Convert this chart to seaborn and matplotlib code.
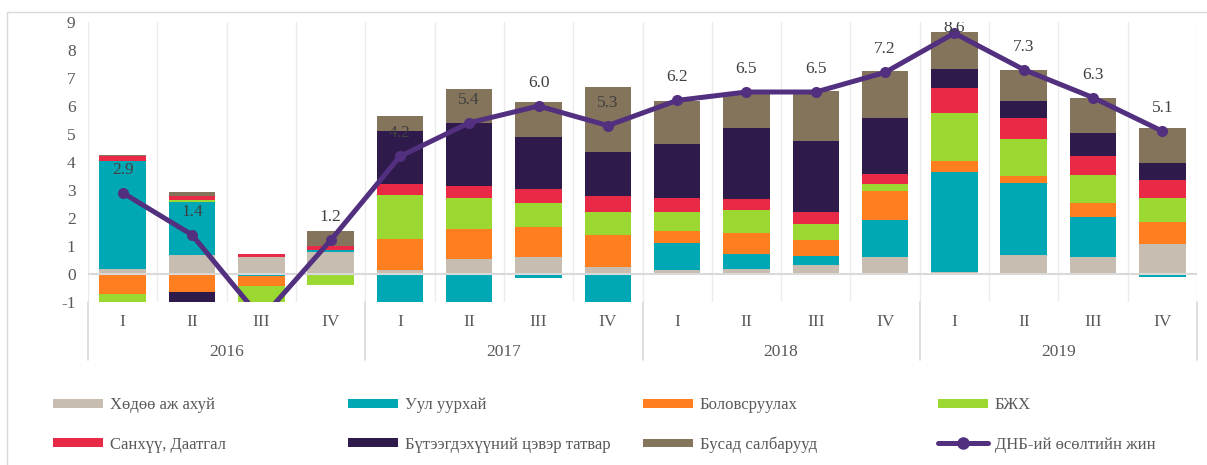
import numpy as np
import matplotlib
matplotlib.use("Agg")
import matplotlib.pyplot as plt
import matplotlib.transforms as mtransforms
from matplotlib.patches import Rectangle, Patch
from matplotlib.lines import Line2D
import seaborn as sns

# quarterly contributions to GDP growth (pp), 2016 I .. 2019 IV
quarters = ["I", "II", "III", "IV"] * 4
years = ["2016", "2017", "2018", "2019"]

agri = [0.18, 0.69, 0.60, 0.79, 0.15, 0.55, 0.62, 0.25, 0.14, 0.18, 0.31, 0.60, 0.06, 0.69, 0.60, 1.07]
mining = [3.84, 1.88, -0.06, 0.06, -1.45, -1.18, -0.14, -1.39, 0.95, 0.54, 0.35, 1.33, 3.57, 2.57, 1.43, -0.10]
manuf = [-0.70, -0.65, -0.36, 0.0, 1.11, 1.04, 1.05, 1.13, 0.44, 0.76, 0.55, 1.02, 0.42, 0.24, 0.51, 0.77]
constr = [-0.64, 0.07, -1.20, -0.38, 1.57, 1.11, 0.88, 0.82, 0.69, 0.82, 0.58, 0.27, 1.71, 1.31, 1.01, 0.87]
finance = [0.18, 0.13, 0.10, 0.14, 0.39, 0.46, 0.48, 0.57, 0.48, 0.38, 0.42, 0.36, 0.89, 0.76, 0.68, 0.65]
net_tax = [0.0, -0.89, -0.67, 0.02, 1.87, 2.23, 1.88, 1.60, 1.93, 2.52, 2.54, 1.98, 0.68, 0.60, 0.81, 0.62]
other = [0.04, 0.17, 0.0, 0.54, 0.56, 1.20, 1.24, 2.32, 1.55, 1.23, 1.79, 1.68, 1.31, 1.11, 1.24, 1.23]
gdp = [2.9, 1.4, -1.6, 1.2, 4.2, 5.4, 6.0, 5.3, 6.2, 6.5, 6.5, 7.2, 8.6, 7.3, 6.3, 5.1]

series = [
    ("Хөдөө аж ахуй", agri, "#C7BDB0"),
    ("Уул уурхай", mining, "#00A8B5"),
    ("Боловсруулах", manuf, "#FF7F20"),
    ("БЖХ", constr, "#9CD832"),
    ("Санхүү, Даатгал", finance, "#E92A47"),
    ("Бүтээгдэхүүний цэвэр татвар", net_tax, "#2F1B4B"),
    ("Бусад салбарууд", other, "#84745B"),
]
line_name = "ДНБ-ий өсөлтийн жин"
line_col = "#52307F"
txt_col = "#595959"

sns.set_theme(style="white")
plt.rcParams["font.family"] = ["Liberation Serif", "DejaVu Serif"]
plt.rcParams["axes.unicode_minus"] = False

fig = plt.figure(figsize=(12.07, 4.65), dpi=100)
ax = fig.add_axes([88 / 1207, 1 - 302 / 465, (1197 - 88) / 1207, 280 / 465])

x = np.arange(len(gdp))
pos = np.zeros(len(x))
neg = np.zeros(len(x))
for name, vals, col in series:
    v = np.array(vals)
    bottom = np.where(v >= 0, pos, neg)
    ax.bar(x, v, bottom=bottom, width=0.67, color=col, zorder=2, linewidth=0)
    pos += np.where(v >= 0, v, 0)
    neg += np.where(v < 0, v, 0)

sns.lineplot(x=x, y=gdp, ax=ax, color=line_col, lw=3.6, marker="o",
             markersize=8, markeredgewidth=0, zorder=4, legend=False)

for i, v in enumerate(gdp):
    if v > -1:
        ax.text(i, min(v + 0.82, 8.79), f"{v:.1f}", ha="center", va="center",
                fontsize=12.5, color="#404040", zorder=5, clip_on=True)

ax.set_xlim(-0.5, 15.5)
ax.set_ylim(-1, 9)
ax.set_yticks(range(-1, 10))
ax.set_xticks([])
for s in ax.spines.values():
    s.set_visible(False)
ax.tick_params(axis="y", length=0, pad=9, labelsize=12.5, labelcolor=txt_col)
ax.set_xlabel("")
ax.set_ylabel("")

for b in np.arange(-0.5, 16, 1):
    ax.axvline(b, color="#EBEBEB", lw=1, zorder=0)
ax.axhline(0, color="#D9D9D9", lw=1.5, zorder=3)

# category axis (quarters + years)
trans = mtransforms.blended_transform_factory(ax.transData, ax.transAxes)
for i, q in enumerate(quarters):
    ax.text(i, -20 / 280, q, transform=trans, ha="center", va="center",
            fontsize=12.5, color=txt_col)
for k, yr in enumerate(years):
    ax.text(4 * k + 1.5, -50 / 280, yr, transform=trans, ha="center", va="center",
            fontsize=12.5, color=txt_col)
for b in [-0.5, 3.5, 7.5, 11.5, 15.5]:
    ax.plot([b, b], [0, -58 / 280], transform=trans, color="#D9D9D9", lw=1.2, clip_on=False)

# legend: 4 columns, 2 rows
handles = [Patch(facecolor=c, edgecolor="none") for _, _, c in series]
handles.append(Line2D([], [], color=line_col, lw=3.6, marker="o", markersize=8))
labels = [n for n, _, _ in series] + [line_name]
col_x = [53, 348, 643, 938]
for c in range(4):
    fig.legend([handles[c], handles[c + 4]], [labels[c], labels[c + 4]],
               loc="center left", bbox_to_anchor=(col_x[c] / 1207, 1 - 425 / 465),
               frameon=False, fontsize=12, labelcolor=txt_col, handlelength=3.0,
               handleheight=0.45, handletextpad=0.4, labelspacing=1.4,
               borderpad=0, borderaxespad=0)

fig.patches.append(Rectangle((7 / 1207, -0.05), 1.0, 1 - 12 / 465 + 0.05,
                             transform=fig.transFigure, fill=False,
                             edgecolor="#D9D9D9", lw=1))

fig.savefig("out.png", dpi=100)
